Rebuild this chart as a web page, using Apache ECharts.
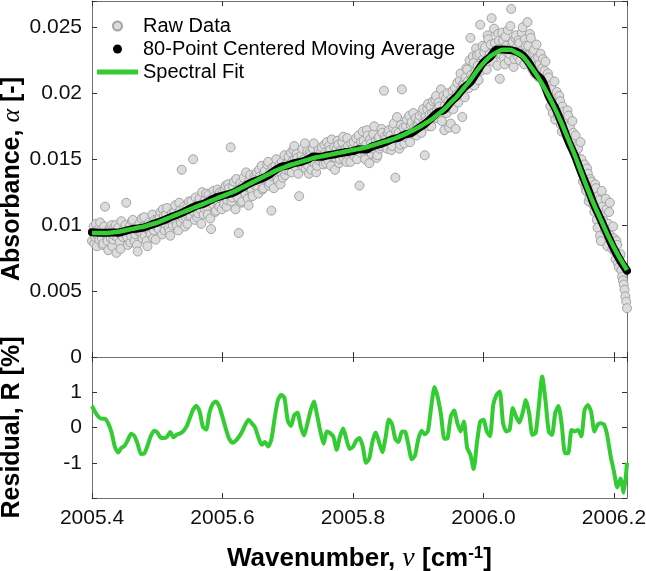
<!DOCTYPE html>
<html>
<head>
<meta charset="utf-8">
<script src="https://cdn.jsdelivr.net/npm/echarts@6/dist/echarts.min.js"></script>
<style>
html, body { margin: 0; padding: 0; background: #fff; }
#chart { width: 646px; height: 571px; }
</style>
</head>
<body>
<div id="chart"></div>
<script>
// raw absorbance samples, evenly spaced from RAW_START by RAW_STEP [cm-1]
var RAW_START = 2005.4, RAW_STEP = 0.00125;
var rawAbs = [
  0.0088,0.0095,0.0099,0.0086,0.0091,0.0101,0.0084,0.0092,0.0097,0.0089,0.0102,0.0096,0.0090,0.0085,0.0086,0.0099,0.0114,0.0093,0.0093,0.0088,
  0.0081,0.0097,0.0096,0.0090,0.0100,0.0084,0.0089,0.0098,0.0092,0.0100,0.0079,0.0091,0.0098,0.0094,0.0087,0.0082,0.0103,0.0092,0.0091,0.0097,
  0.0094,0.0100,0.0117,0.0091,0.0085,0.0096,0.0099,0.0087,0.0092,0.0103,0.0104,0.0095,0.0088,0.0093,0.0097,0.0085,0.0080,0.0098,0.0101,0.0094,
  0.0095,0.0105,0.0090,0.0099,0.0106,0.0092,0.0098,0.0088,0.0084,0.0097,0.0102,0.0095,0.0093,0.0101,0.0108,0.0090,0.0096,0.0104,0.0089,0.0099,
  0.0104,0.0099,0.0097,0.0106,0.0110,0.0102,0.0093,0.0112,0.0107,0.0096,0.0101,0.0108,0.0113,0.0103,0.0098,0.0095,0.0092,0.0105,0.0109,0.0100,
  0.0104,0.0110,0.0115,0.0103,0.0100,0.0108,0.0096,0.0117,0.0111,0.0102,0.0142,0.0109,0.0105,0.0114,0.0099,0.0106,0.0113,0.0101,0.0107,0.0118,
  0.0112,0.0107,0.0118,0.0113,0.0150,0.0110,0.0104,0.0121,0.0115,0.0106,0.0109,0.0117,0.0120,0.0112,0.0101,0.0125,0.0117,0.0108,0.0113,0.0119,
  0.0124,0.0114,0.0108,0.0123,0.0119,0.0105,0.0097,0.0118,0.0116,0.0126,0.0122,0.0110,0.0111,0.0121,0.0127,0.0116,0.0114,0.0125,0.0120,0.0112,
  0.0125,0.0120,0.0116,0.0127,0.0130,0.0114,0.0119,0.0131,0.0128,0.0123,0.0159,0.0118,0.0121,0.0129,0.0133,0.0124,0.0112,0.0135,0.0126,0.0121,
  0.0094,0.0128,0.0132,0.0117,0.0118,0.0130,0.0136,0.0125,0.0124,0.0140,0.0129,0.0120,0.0115,0.0134,0.0138,0.0126,0.0127,0.0122,0.0133,0.0137,
  0.0130,0.0136,0.0140,0.0129,0.0124,0.0142,0.0137,0.0133,0.0145,0.0127,0.0128,0.0139,0.0141,0.0134,0.0135,0.0146,0.0148,0.0130,0.0132,0.0141,
  0.0111,0.0137,0.0144,0.0128,0.0138,0.0145,0.0150,0.0136,0.0134,0.0142,0.0146,0.0131,0.0140,0.0148,0.0136,0.0144,0.0153,0.0138,0.0142,0.0147,
  0.0147,0.0152,0.0141,0.0146,0.0155,0.0140,0.0149,0.0157,0.0160,0.0150,0.0144,0.0154,0.0151,0.0139,0.0122,0.0148,0.0146,0.0153,0.0158,0.0144,
  0.0150,0.0162,0.0143,0.0149,0.0156,0.0145,0.0139,0.0155,0.0153,0.0142,0.0148,0.0158,0.0162,0.0147,0.0152,0.0140,0.0145,0.0154,0.0157,0.0149,
  0.0151,0.0156,0.0159,0.0150,0.0146,0.0161,0.0155,0.0147,0.0163,0.0154,0.0149,0.0160,0.0157,0.0145,0.0165,0.0152,0.0153,0.0159,0.0142,0.0151,
  0.0158,0.0164,0.0161,0.0147,0.0150,0.0157,0.0156,0.0163,0.0167,0.0150,0.0154,0.0158,0.0148,0.0166,0.0160,0.0153,0.0155,0.0148,0.0162,0.0157,
  0.0158,0.0163,0.0152,0.0157,0.0166,0.0150,0.0160,0.0168,0.0130,0.0155,0.0163,0.0159,0.0171,0.0164,0.0155,0.0150,0.0161,0.0172,0.0168,0.0157,
  0.0147,0.0165,0.0162,0.0154,0.0158,0.0169,0.0175,0.0160,0.0164,0.0151,0.0153,0.0166,0.0167,0.0158,0.0160,0.0173,0.0170,0.0162,0.0202,0.0167,
  0.0165,0.0160,0.0158,0.0170,0.0172,0.0163,0.0168,0.0157,0.0160,0.0174,0.0177,0.0166,0.0136,0.0171,0.0182,0.0164,0.0170,0.0158,0.0161,0.0176,
  0.0203,0.0168,0.0174,0.0162,0.0167,0.0175,0.0180,0.0166,0.0171,0.0183,0.0163,0.0176,0.0178,0.0169,0.0185,0.0174,0.0172,0.0181,0.0168,0.0177,
  0.0176,0.0180,0.0183,0.0173,0.0170,0.0186,0.0188,0.0178,0.0153,0.0182,0.0179,0.0188,0.0192,0.0175,0.0184,0.0190,0.0175,0.0185,0.0194,0.0181,
  0.0186,0.0195,0.0198,0.0187,0.0181,0.0193,0.0190,0.0184,0.0203,0.0179,0.0187,0.0198,0.0172,0.0191,0.0196,0.0185,0.0200,0.0194,0.0174,0.0189,
  0.0177,0.0196,0.0202,0.0188,0.0195,0.0204,0.0173,0.0199,0.0208,0.0193,0.0199,0.0210,0.0215,0.0203,0.0182,0.0207,0.0206,0.0197,0.0212,0.0219,
  0.0218,0.0209,0.0204,0.0225,0.0242,0.0214,0.0211,0.0228,0.0223,0.0206,0.0216,0.0234,0.0229,0.0221,0.0210,0.0230,0.0252,0.0217,0.0220,0.0236,
  0.0226,0.0231,0.0235,0.0223,0.0218,0.0244,0.0241,0.0228,0.0230,0.0237,0.0257,0.0226,0.0224,0.0249,0.0238,0.0232,0.0233,0.0221,0.0245,0.0240,
  0.0211,0.0234,0.0229,0.0246,0.0240,0.0227,0.0222,0.0243,0.0236,0.0231,0.0248,0.0225,0.0230,0.0251,0.0264,0.0236,0.0239,0.0220,0.0226,0.0242,
  0.0244,0.0235,0.0228,0.0240,0.0238,0.0225,0.0232,0.0246,0.0250,0.0230,0.0222,0.0241,0.0236,0.0227,0.0254,0.0236,0.0229,0.0245,0.0242,0.0224,
  0.0218,0.0231,0.0233,0.0215,0.0226,0.0237,0.0221,0.0227,0.0212,0.0222,0.0230,0.0214,0.0219,0.0226,0.0208,0.0217,0.0224,0.0210,0.0203,0.0215,
  0.0212,0.0199,0.0190,0.0206,0.0203,0.0185,0.0196,0.0209,0.0180,0.0192,0.0201,0.0183,0.0187,0.0198,0.0194,0.0176,0.0171,0.0190,0.0186,0.0180,
  0.0179,0.0173,0.0168,0.0187,0.0183,0.0176,0.0175,0.0165,0.0160,0.0179,0.0170,0.0157,0.0163,0.0168,0.0152,0.0160,0.0158,0.0150,0.0147,0.0163,
  0.0150,0.0141,0.0133,0.0137,0.0146,0.0129,0.0126,0.0143,0.0139,0.0118,0.0121,0.0135,0.0133,0.0127,0.0125,0.0115,0.0110,0.0131,0.0128,0.0104,
  0.0098,0.0122,0.0119,0.0092,0.0088,0.0126,0.0114,0.0108,0.0103,0.0096,0.0120,0.0112,0.0084,0.0101,0.0110,0.0117,0.0092,0.0087,0.0082,0.0099,
  0.0090,0.0080,0.0074,0.0088,0.0085,0.0071,0.0068,0.0076,0.0078,0.0066,0.0061,0.0058,0.0055,0.0051,0.0046,0.0042,0.0037
];

// 80-point moving average and spectral fit, every 0.01 cm-1
var CURVE_START = 2005.4, CURVE_STEP = 0.01;
var avgAbs = [
  0.00946,0.00943,0.00942,0.00944,0.00943,0.00955,0.00968,0.00975,0.00983,0.01002,
  0.01019,0.01037,0.01059,0.01078,0.01099,0.01123,0.01147,0.01160,0.01185,0.01209,
  0.01224,0.01236,0.01255,0.01283,0.01313,0.01335,0.01353,0.01378,0.01414,0.01443,
  0.01453,0.01470,0.01480,0.01497,0.01521,0.01518,0.01528,0.01536,0.01546,0.01555,
  0.01561,0.01575,0.01574,0.01599,0.01613,0.01630,0.01651,0.01663,0.01688,0.01700,
  0.01734,0.01767,0.01811,0.01856,0.01874,0.01936,0.01982,0.02043,0.02084,0.02160,
  0.02235,0.02274,0.02331,0.02333,0.02328,0.02317,0.02289,0.02229,0.02147,0.02099,
  0.01978,0.01888,0.01771,0.01638,0.01528,0.01397,0.01278,0.01149,0.01041,0.00929,
  0.00820,0.00729,0.00655
];
var fitAbs = [
  0.00940,0.00940,0.00940,0.00945,0.00950,0.00960,0.00970,0.00980,0.00990,0.01005,
  0.01020,0.01040,0.01060,0.01080,0.01100,0.01120,0.01140,0.01160,0.01180,0.01200,
  0.01220,0.01240,0.01260,0.01285,0.01310,0.01335,0.01360,0.01385,0.01410,0.01430,
  0.01450,0.01465,0.01480,0.01495,0.01510,0.01520,0.01530,0.01540,0.01550,0.01560,
  0.01570,0.01580,0.01590,0.01605,0.01620,0.01635,0.01650,0.01670,0.01690,0.01715,
  0.01740,0.01770,0.01800,0.01840,0.01880,0.01930,0.01980,0.02040,0.02100,0.02170,
  0.02230,0.02280,0.02310,0.02330,0.02330,0.02310,0.02280,0.02220,0.02150,0.02070,
  0.01980,0.01880,0.01770,0.01650,0.01530,0.01400,0.01270,0.01150,0.01040,0.00930,
  0.00830,0.00740,0.00660
];

// residual [%], every 0.005 cm-1
var RES_START = 2005.4, RES_STEP = 0.005;
var residual = [
  0.61,0.43,0.30,0.25,0.25,0.11,-0.14,-0.55,-0.71,-0.58,
  -0.52,-0.35,-0.18,-0.24,-0.47,-0.75,-0.74,-0.52,-0.25,-0.09,
  -0.14,-0.28,-0.30,-0.26,-0.13,-0.28,-0.20,-0.17,-0.10,0.03,
  0.27,0.51,0.62,0.45,0.02,-0.06,0.42,0.67,0.74,0.60,
  0.30,-0.03,-0.31,-0.43,-0.38,-0.27,-0.12,0.08,0.22,0.12,
  0.00,-0.28,-0.49,-0.41,-0.54,-0.33,0.27,0.78,0.93,0.84,
  0.20,0.04,0.35,0.42,0.02,-0.23,0.10,0.48,0.74,0.35,
  -0.11,-0.46,-0.11,-0.16,-0.26,-0.63,-0.26,-0.03,-0.34,-0.61,
  -0.55,-0.37,-0.30,-0.54,-1.00,-0.88,-0.39,-0.14,-0.42,-0.70,
  -0.28,0.23,0.09,-0.33,-0.41,-0.11,-0.12,-0.50,-0.90,-0.80,
  -0.34,-0.09,-0.19,-0.09,0.60,1.15,0.85,0.35,-0.32,-0.30,
  0.32,0.48,0.12,-0.11,0.17,-0.58,-0.77,-1.18,-0.44,0.17,
  0.22,-0.11,-0.25,0.64,0.92,1.02,0.12,-0.11,-0.07,0.55,
  0.31,0.14,0.41,0.78,0.41,-0.21,-0.16,0.64,1.45,0.78,
  -0.11,-0.21,0.41,0.61,0.08,-0.73,-0.73,-0.07,-0.11,-0.07,
  -0.25,0.50,0.64,0.45,-0.11,0.08,0.12,0.08,-0.25,-0.82,
  -1.25,-1.70,-1.45,-1.85,-1.00
];

var xTicks = [2005.4, 2005.6, 2005.8, 2006.0, 2006.2];
var absTicks = [0, 0.005, 0.01, 0.015, 0.02, 0.025];
var resTicks = [-1, 0, 1];

function pairs(start, step, ys) {
  return ys.map(function (y, i) { return [+(start + i * step).toFixed(5), y]; });
}
function onTick(list, v) {
  return list.some(function (t) { return Math.abs(t - v) < 1e-6; });
}

var FONT = 'Liberation Sans, Arial, sans-serif';
var SERIF = 'Liberation Serif, DejaVu Serif, serif';
var GREEN = '#33cc33';
var AXIS_COLOR = '#707070';

var chart = echarts.init(document.getElementById('chart'));

function xAx(grid, pos, labels) {
  return {
    type: 'value', gridIndex: grid, position: pos,
    min: 2005.4, max: 2006.22, interval: 0.2,
    axisLine: { show: true, onZero: false, lineStyle: { color: AXIS_COLOR, width: 1 } },
    axisTick: { show: true, inside: true, length: 5, lineStyle: { color: '#333' } },
    axisLabel: {
      show: labels, margin: 10, color: '#111', fontSize: 21, fontFamily: FONT,
      showMaxLabel: false,
      formatter: function (v) { return onTick(xTicks, v) ? v.toFixed(1) : ''; }
    },
    splitLine: { show: false }
  };
}
function yAx(grid, pos, labels, lo, hi, step, ticks) {
  return {
    type: 'value', gridIndex: grid, position: pos,
    min: lo, max: hi, interval: step,
    axisLine: { show: true, onZero: false, lineStyle: { color: AXIS_COLOR, width: 1 } },
    axisTick: { show: true, inside: true, length: 5, lineStyle: { color: '#333' } },
    axisLabel: {
      show: labels, margin: 10, color: '#111', fontSize: 21, fontFamily: FONT,
      formatter: function (v) { return onTick(ticks, v) ? String(v) : ''; }
    },
    splitLine: { show: false }
  };
}

var bold = { fontSize: 25, lineHeight: 26, fontWeight: 'bold', fontFamily: FONT, color: '#000' };
var greek = { fontSize: 26, lineHeight: 26, fontStyle: 'italic', fontFamily: SERIF, color: '#000' };

var absAxis = yAx(0, 'left', true, 0, 0.027, 0.005, absTicks);
absAxis.name = '{b|Absorbance, }{g|α}{b| [-]}';
absAxis.nameLocation = 'middle';
absAxis.nameGap = 67;
absAxis.nameMoveOverlap = false;
absAxis.nameTextStyle = { rich: { b: bold, g: greek } };

var resAxis = yAx(1, 'left', true, -2, 2, 1, resTicks);
resAxis.name = '{b|Residual, R [%]}';
resAxis.nameLocation = 'middle';
resAxis.nameGap = 67;
resAxis.nameMoveOverlap = false;
resAxis.nameTextStyle = { rich: { b: bold } };

var waveAxis = xAx(1, 'bottom', true);
waveAxis.name = '{b|Wavenumber, }{g|ν}{b| [cm}{s|-1}{b|]}';
waveAxis.nameLocation = 'middle';
waveAxis.nameGap = 47;
waveAxis.nameMoveOverlap = false;
waveAxis.nameTextStyle = {
  rich: {
    b: { fontSize: 26, fontWeight: 'bold', fontFamily: FONT, color: '#000' },
    g: { fontSize: 28, fontStyle: 'italic', fontFamily: SERIF, color: '#000' },
    s: { fontSize: 17, fontWeight: 'bold', fontFamily: FONT, color: '#000', verticalAlign: 'top' }
  }
};

var option = {
  animation: false,
  backgroundColor: '#fff',
  grid: [
    { left: 92, right: 19, top: 1, height: 356, outerBoundsMode: 'none', containLabel: false },
    { left: 92, right: 19, top: 357, height: 141, outerBoundsMode: 'none', containLabel: false }
  ],
  legend: {
    orient: 'vertical', left: 97, top: 16, padding: 0,
    itemWidth: 41, itemHeight: 9, itemGap: 3,
    textStyle: { fontSize: 20, fontFamily: FONT, color: '#000' },
    data: [
      { name: 'Raw Data' },
      { name: '80-Point Centered Moving Average', icon: 'circle', itemStyle: { color: '#000' } },
      { name: 'Spectral Fit', icon: 'path://M0,0L41,0L41,5L0,5Z', itemStyle: { color: GREEN } }
    ]
  },
  xAxis: [xAx(0, 'bottom', false), xAx(0, 'top', false), waveAxis, xAx(1, 'top', false)],
  yAxis: [
    absAxis,
    yAx(0, 'right', false, 0, 0.027, 0.005, absTicks),
    resAxis,
    yAx(1, 'right', false, -2, 2, 1, resTicks)
  ],
  series: [
    {
      name: 'Raw Data', type: 'scatter', xAxisIndex: 0, yAxisIndex: 0,
      symbol: 'circle', symbolSize: 9,
      itemStyle: { color: '#dcdcdc', borderColor: '#a3a3a3', borderWidth: 1, opacity: 1 },
      data: pairs(RAW_START, RAW_STEP, rawAbs)
    },
    {
      name: '80-Point Centered Moving Average', type: 'line', xAxisIndex: 0, yAxisIndex: 0,
      symbol: 'none', smooth: 0.3, color: '#000',
      lineStyle: { color: '#000', width: 8, cap: 'round', join: 'round' },
      data: pairs(CURVE_START, CURVE_STEP, avgAbs)
    },
    {
      name: 'Spectral Fit', type: 'line', xAxisIndex: 0, yAxisIndex: 0,
      symbol: 'none', smooth: 0.4, color: GREEN,
      lineStyle: { color: GREEN, width: 4.5 },
      data: pairs(CURVE_START, CURVE_STEP, fitAbs)
    },
    {
      name: 'Residual', type: 'line', xAxisIndex: 2, yAxisIndex: 2,
      symbol: 'none', smooth: 0.2, color: GREEN,
      lineStyle: { color: GREEN, width: 4, join: 'round' },
      data: pairs(RES_START, RES_STEP, residual)
    }
  ]
};
chart.setOption(option);
</script>
</body>
</html>
